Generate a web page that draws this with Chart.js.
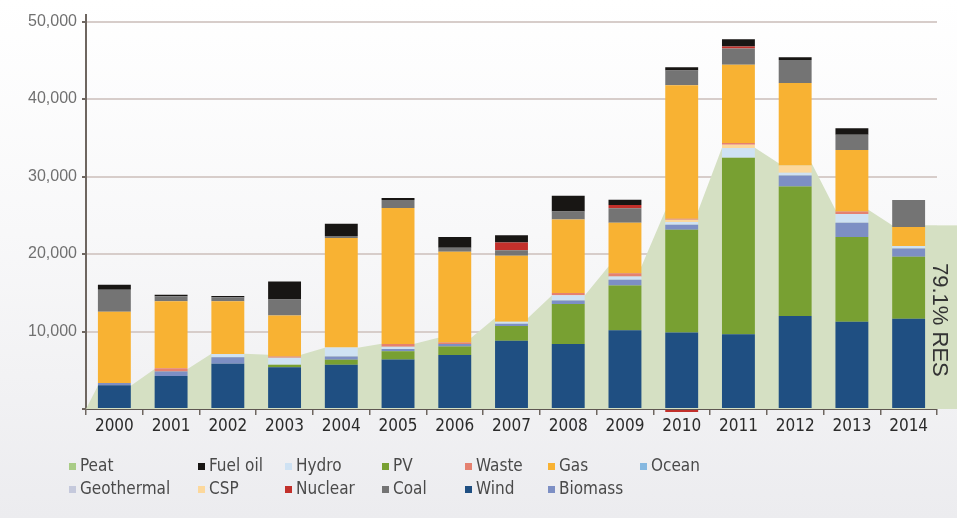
<!DOCTYPE html>
<html>
<head>
<meta charset="utf-8">
<script src="https://cdn.jsdelivr.net/npm/chart.js@4.4.1/dist/chart.umd.min.js"></script>
<style>
  html, body { margin: 0; padding: 0; }
  body {
    width: 957px; height: 518px; position: relative; overflow: hidden;
    background: linear-gradient(180deg, #ffffff 0%, #f8f8f9 45%, #ececef 100%);
  }
  #wrap { position: absolute; left: 0; top: 0; width: 957px; height: 518px; }
  #resLabel {
    position: absolute; left: 929px; top: 263px;
    writing-mode: vertical-rl;
    font: 22px "Liberation Sans", Arial, sans-serif; line-height: 22px;
    color: #333333; white-space: nowrap;
  }
  #legend {
    position: absolute; left: 69px; top: 453px;
    display: grid;
    grid-template-columns: 129px 87px 97px 83px 83px 92px auto;
    grid-auto-rows: 23px;
    font: 17px "DejaVu Sans Condensed", "Liberation Sans Narrow", sans-serif;
    color: #4a4a4a;
  }
  .item { display: flex; align-items: center; white-space: nowrap; }
  .sw { width: 7px; height: 7px; margin-right: 4px; margin-top: 3px; }
</style>
</head>
<body>
<div id="wrap"><canvas id="chart" width="957" height="518"></canvas></div>
<div id="resLabel">79.1% RES</div>
<div id="legend"></div>
<script>
// Categories
const years = ['2000', '2001', '2002', '2003', '2004', '2005', '2006', '2007',
               '2008', '2009', '2010', '2011', '2012', '2013', '2014'];

// Installed capacity per technology (MW)
const wind       = [3050, 4250, 5830, 5400, 5700, 6380, 6980, 8800, 8380, 10170, 9870, 9660, 11990, 11270, 11650];
const pv         = [0, 0, 0, 300, 640, 1060, 1100, 1920, 5180, 5780, 13270, 22750, 16720, 10930, 8000];
const biomass    = [300, 600, 850, 0, 420, 300, 300, 290, 440, 730, 640, 0, 1440, 1830, 1060];
const ocean      = [0, 0, 0, 0, 0, 0, 0, 0, 0, 0, 0, 0, 0, 0, 0];
const geothermal = [0, 0, 0, 0, 0, 0, 0, 0, 0, 0, 0, 0, 0, 0, 0];
const hydro      = [0, 0, 420, 900, 1190, 300, 0, 260, 670, 420, 340, 1280, 350, 1150, 340];
const csp        = [0, 0, 0, 0, 0, 0, 0, 0, 0, 0, 300, 420, 930, 0, 0];
const waste      = [0, 400, 0, 160, 0, 340, 210, 0, 300, 420, 120, 210, 0, 300, 0];
const gas        = [9200, 8650, 6800, 5320, 14130, 17560, 11700, 8510, 9490, 6510, 17230, 10120, 10640, 7950, 2430];
const coal       = [2850, 650, 520, 2040, 250, 1020, 510, 720, 1020, 1870, 1910, 2090, 2970, 1950, 3480];
const nuclear    = [0, 0, 0, 0, 0, 0, 0, 980, 0, 430, -400, 260, 0, 0, 0];
const fuelOil    = [650, 200, 170, 2340, 1570, 260, 1400, 940, 2040, 680, 430, 930, 340, 860, 0];
const peat       = [0, 0, 0, 0, 0, 0, 0, 0, 0, 0, 0, 0, 0, 0, 0];

// Height of the green RES band behind each bar (MW)
const resBand = [3000, 5170, 7120, 7000, 7900, 8420, 9200, 11760, 14650, 18400, 25600, 33700, 31700, 25700, 23700];

// Y axis ticks
const yTicks = [10000, 20000, 30000, 40000, 50000];

// Legend order as in the original
const legendOrder = ['Peat', 'Fuel oil', 'Hydro', 'PV', 'Waste', 'Gas', 'Ocean',
                     'Geothermal', 'CSP', 'Nuclear', 'Coal', 'Wind', 'Biomass'];

const BAR_FRACTION = 0.58;
const AREA_COLOR = '#d5e0c3';
const NARROW = '"DejaVu Sans Condensed", "Liberation Sans Narrow", sans-serif';

// Stack order, bottom to top
const series = [
  { label: 'Wind', data: wind, color: '#1f4f82' },
  { label: 'PV', data: pv, color: '#78a032' },
  { label: 'Biomass', data: biomass, color: '#7d8fc4' },
  { label: 'Ocean', data: ocean, color: '#86b8e0' },
  { label: 'Geothermal', data: geothermal, color: '#c5c9dc' },
  { label: 'Hydro', data: hydro, color: '#cfe2f3' },
  { label: 'CSP', data: csp, color: '#fcd89c' },
  { label: 'Waste', data: waste, color: '#e58170' },
  { label: 'Gas', data: gas, color: '#f8b233' },
  { label: 'Coal', data: coal, color: '#747474' },
  { label: 'Nuclear', data: nuclear, color: '#c2302b' },
  { label: 'Fuel oil', data: fuelOil, color: '#181614' },
  { label: 'Peat', data: peat, color: '#a9cc86' }
];

// Green band: flat over each bar, sloped in the gaps, starting from zero at the axis
const bandPoints = [{ x: -0.5, y: 0 }];
resBand.forEach((v, i) => {
  bandPoints.push({ x: i - BAR_FRACTION / 2, y: v }, { x: i + BAR_FRACTION / 2, y: v });
});
bandPoints.push({ x: resBand.length, y: resBand[resBand.length - 1] });

// The band runs on past the end of the axis to the edge of the picture
const bandTail = {
  id: 'bandTail',
  beforeDatasetsDraw(chart) {
    const { ctx, chartArea, scales } = chart;
    const top = scales.y.getPixelForValue(resBand[resBand.length - 1]);
    const base = scales.y.getPixelForValue(0);
    ctx.save();
    ctx.fillStyle = AREA_COLOR;
    ctx.fillRect(chartArea.right, top, chart.width - chartArea.right, base - top);
    ctx.restore();
  }
};

const datasets = series.map(s => ({
  type: 'bar',
  label: s.label,
  data: s.data,
  xAxisID: 'x',
  backgroundColor: s.color,
  borderWidth: 0,
  stack: 'mw',
  grouped: false,
  order: 0,
  clip: false,
  barPercentage: BAR_FRACTION,
  categoryPercentage: 1
}));

datasets.push({
  type: 'line',
  label: 'RES',
  data: bandPoints,
  xAxisID: 'xa',
  fill: 'origin',
  backgroundColor: AREA_COLOR,
  borderColor: 'transparent',
  borderWidth: 0,
  pointRadius: 0,
  tension: 0,
  order: 5
});

new Chart(document.getElementById('chart'), {
  data: { labels: years, datasets },
  plugins: [bandTail],
  options: {
    responsive: false,
    animation: false,
    layout: { padding: { top: 10, right: 20, bottom: 73, left: 0 } },
    plugins: { legend: { display: false }, tooltip: { enabled: false } },
    scales: {
      x: {
        stacked: true,
        afterFit: s => { s.height = 36; },
        grid: { offset: true, drawOnChartArea: false, tickLength: 6, tickColor: '#6e6660', lineWidth: 1.5 },
        border: { color: '#5e5752', width: 2 },
        ticks: { color: '#2b2b2b', font: { family: NARROW, size: 17 }, padding: 1, maxRotation: 0, autoSkip: false }
      },
      xa: { type: 'linear', display: false, min: -0.5, max: years.length - 0.5 },
      y: {
        stacked: true,
        min: 0,
        max: 50900,
        afterFit: s => { s.width = 86; },
        afterBuildTicks: s => { s.ticks = [0].concat(yTicks).map(v => ({ value: v })); },
        grid: { color: '#d7cdca', lineWidth: 2, tickLength: 4, tickColor: '#6e6660' },
        border: { color: '#6e6660', width: 2 },
        ticks: {
          color: '#707070',
          font: { family: '"Liberation Sans", Arial, sans-serif', size: 16 },
          padding: 5,
          callback: v => v === 0 ? '' : v.toLocaleString('en-US')
        }
      }
    }
  }
});

// HTML legend with fixed columns
const legendEl = document.getElementById('legend');
legendOrder.forEach(name => {
  const s = series.find(d => d.label === name);
  const item = document.createElement('div');
  item.className = 'item';
  item.innerHTML = `<span class="sw" style="background:${s.color}"></span><span>${name}</span>`;
  legendEl.appendChild(item);
});
</script>
</body>
</html>
